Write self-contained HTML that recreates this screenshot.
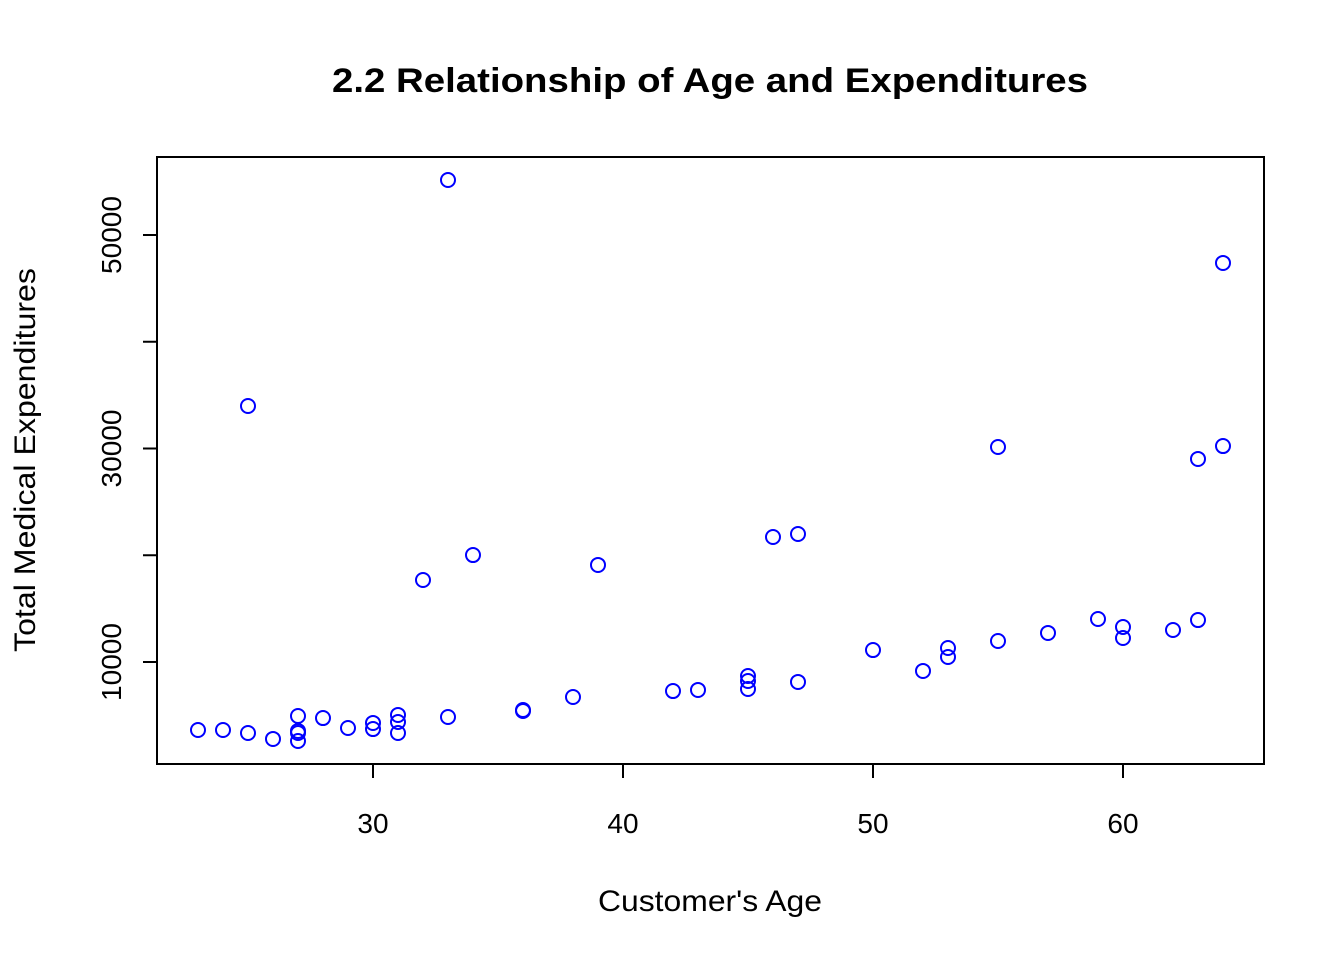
<!DOCTYPE html>
<html><head><meta charset="utf-8"><style>
html,body{margin:0;padding:0;background:#fff}
svg{display:block;font-family:"Liberation Sans",Arial,sans-serif}
</style></head><body>
<svg id="chart" width="1344" height="960">
<text x="710" y="92" text-anchor="middle" font-size="34" font-weight="bold" textLength="756" lengthAdjust="spacingAndGlyphs">2.2 Relationship of Age and Expenditures</text>
<rect x="157" y="157" width="1107" height="607" fill="none" stroke="#000" stroke-width="2"/>
<text x="710" y="911" text-anchor="middle" font-size="30" textLength="224" lengthAdjust="spacingAndGlyphs">Customer's Age</text>
<text transform="translate(35,460) rotate(-90)" text-anchor="middle" font-size="30" textLength="384" lengthAdjust="spacingAndGlyphs">Total Medical Expenditures</text>
<g id="xaxis"></g>
<g id="yaxis"></g>
<g id="points"></g>
</svg>
<script>
const ages=[23,24,25,25,26,27,27,27,27,28,29,30,30,31,31,31,32,33,33,34,36,36,38,39,42,43,45,45,45,46,47,47,50,52,53,53,55,55,57,59,60,60,62,63,63,64,64];
const expenditures=[3630,3630,3350,33980,2790,4940,3540,3350,2600,4750,3820,4290,3720,5040,4380,3350,17680,55150,4850,20020,5500,5410,6720,19090,7280,7380,8690,8220,7470,21710,21990,8130,11120,9160,11310,10470,30140,11970,12720,14030,13280,12250,13000,13930,29020,47380,30230];
const xTicks=[30,40,50,60];
const yTicks=[10000,20000,30000,40000,50000];
const yTickLabels=["10000","","30000","","50000"];
const NS="http://www.w3.org/2000/svg";
const xs=v=>373+(v-30)*25;
const ys=v=>662-(v-10000)*0.010675;
function mk(t,a,p){const e=document.createElementNS(NS,t);for(const k in a)e.setAttribute(k,a[k]);p.appendChild(e);return e;}
const xa=document.getElementById('xaxis'),ya=document.getElementById('yaxis'),pg=document.getElementById('points');
mk('line',{x1:xs(xTicks[0]),x2:xs(xTicks[xTicks.length-1]),y1:764,y2:764,stroke:'#000','stroke-width':2},xa);
xTicks.forEach(v=>{
 const l=mk('line',{x1:xs(v),x2:xs(v),y1:764,y2:778,stroke:'#000','stroke-width':2},xa);
 
 
 const t=mk('text',{x:xs(v),y:833,'text-anchor':'middle','font-size':28},xa);t.textContent=v;
 
 
});
mk('line',{x1:157,x2:157,y1:ys(yTicks[0]),y2:ys(yTicks[yTicks.length-1]),stroke:'#000','stroke-width':2},ya);
yTicks.forEach((v,i)=>{
 const l=mk('line',{x1:143,x2:157,y1:ys(v),y2:ys(v),stroke:'#000','stroke-width':2},ya);
 
 
 if(yTickLabels[i]){
  const t=mk('text',{transform:`translate(121,${ys(v)}) rotate(-90)`,'text-anchor':'middle','font-size':28},ya);t.textContent=yTickLabels[i];
  
  
 }
});
ages.forEach((a,i)=>{
 const c=mk('circle',{cx:xs(a),cy:ys(expenditures[i]),r:7,fill:'none',stroke:'#0000ff','stroke-width':2},pg);
 
 
});
</script>
</body></html>
